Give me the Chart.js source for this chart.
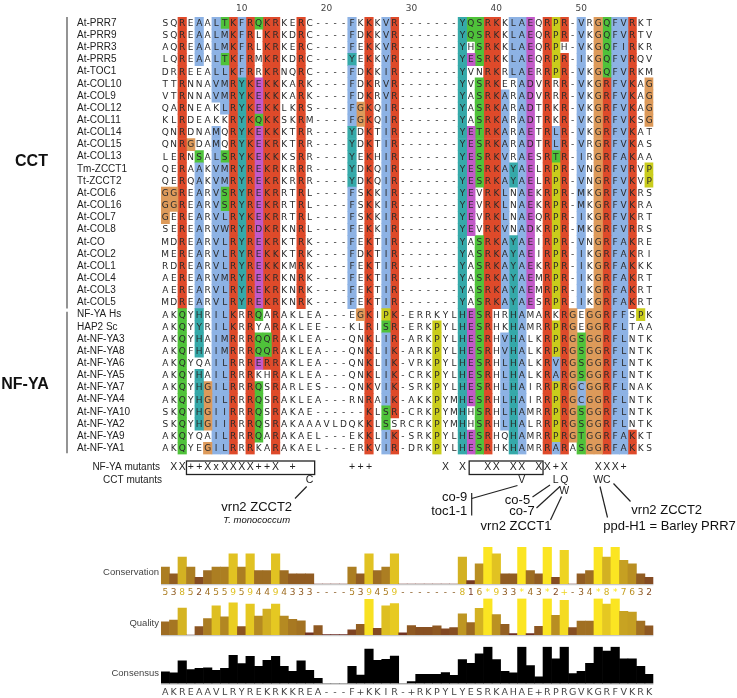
<!DOCTYPE html>
<html>
<head>
<meta charset="utf-8">
<script src="https://cdn.jsdelivr.net/npm/chart.js@4.4.1/dist/chart.umd.min.js"></script>
<style>
  html, body { margin: 0; padding: 0; background: #fff; }
  #wrap { position: relative; width: 737px; height: 698px; overflow: hidden; }
  canvas { position: absolute; left: 0; }
</style>
</head>
<body>
<div id="wrap">
  <canvas id="aln" width="737" height="540" style="top:0px"></canvas>
  <canvas id="cons" width="737" height="58" style="top:540px"></canvas>
  <canvas id="qual" width="737" height="42" style="top:598px"></canvas>
  <canvas id="ident" width="737" height="58" style="top:640px"></canvas>
</div>
<script>
/* ---- Datos ---- */
const names = [
  'At-PRR7', 'At-PRR9', 'At-PRR3', 'At-PRR5', 'At-TOC1', 'At-COL10', 'At-COL9', 'At-COL12',
  'At-COL11', 'At-COL14', 'At-COL15', 'At-COL13', 'Tm-ZCCT1', 'Tt-ZCCT2', 'At-COL6', 'At-COL16',
  'At-COL7', 'At-COL8', 'At-CO', 'At-COL2', 'At-COL1', 'At-COL4', 'At-COL3', 'At-COL5',
  'NF-YA Hs', 'HAP2 Sc', 'At-NF-YA3', 'At-NF-YA8', 'At-NF-YA6', 'At-NF-YA5', 'At-NF-YA7',
  'At-NF-YA4', 'At-NF-YA10', 'At-NF-YA2', 'At-NF-YA9', 'At-NF-YA1'
];

const seqs = [
  'SQREAALTKFRQKRKERC----FKKKVR-------YQSRKKLAEQRPR-VRGQFVRKT',
  'SQREAALMKFRLKRKDRC----FDKKVR-------YQSRKKLAEQRPR-VKGQFVRTV',
  'AQREAALMKFRLKRKERC----FEKKVR-------YHSRKKLAEQRPH-VKGQFIRKR',
  'LQREAALTKFRMKRKDRC----YEKKVR-------YESRKKLAEQRPR-IKGQFVRQV',
  'DRREEALLKFRRKRNQRC----FDKKIR-------YVNRKRLAERRPR-VKGQFVRKM',
  'TTRNNAVMRYKEKKKARK----FDKRVR-------YVSRKERADVRRR-VKGRFVKAG',
  'VTRNNAVMRYKEKKKARK----FDKRVR-------YASRKARADVRRR-VKGRFVKAG',
  'QARNEAKLRYKEKKLKRS----FGKQIR-------YASRKARADTRKR-VKGRFVKAG',
  'KLRDEAKKRYKQKKSKRM----FGKQIR-------YASRKARADTRKR-VKGRFVKSG',
  'QNRDNAMQRYKEKKKTRR----YDKTIR-------YETRKARAETRLR-VKGRFVKAT',
  'QNRGDAMQRYKEKRKTRR----YDKTIR-------YESRKARADTRLR-VRGRFVKAS',
  'LERNSALSRYKEKKKSRR----YEKHIR-------YESRKVRAESRTR-IRGRFAKAA',
  'QERAAKVMRYREKRKRRR----YDKQIR-------YESRKAYAELRPR-VNGRFVRVP',
  'QERQAKVMRYREKRKRRR----YDKQIR-------YESRKAYAELRPR-VNGRFVKVP',
  'GGREARVSRYREKRRTRL----FSKKIR-------YEVRKLNAEKRPR-MKGRFVKRS',
  'GGREARVSRYREKRRTRL----FSKKIR-------YEVRKLNAEKRPR-MKGRFVKRA',
  'GEREARVLRYKEKRRTRL----FSKKIR-------YEVRKLNAEQRPR-IKGRFVKRT',
  'SEREARVWRYRDKRKNRL----FEKKIR-------YEVRKVNADKRPR-MKGRFVRRS',
  'MDREARVLRYREKRKTRK----FEKTIR-------YASRKAYAEIRPR-VNGRFAKRE',
  'MEREARVLRYREKKKTRK----FDKTIR-------YASRKAYAEIRPR-IKGRFAKRI',
  'RDREARVLRYREKKKMRK----FEKTIR-------YASRKAYAEKRPR-IKGRFAKKK',
  'AEREARVMRYREKRKNRK----FEKTIR-------YASRKAYAEMRPR-IKGRFAKRT',
  'AEREARVLRYREKRKNRK----FEKTIR-------YASRKAYAEMRPR-IKGRFAKRT',
  'MDREARVLRYREKRKNRK----FEKTIR-------YASRKAYAESRPR-IKGRFAKRT',
  'AKQYHRILKRRQARAKLEA---EGKIPK-ERRKYLHESRHRHAMARKRGEGGRFFSPK',
  'AKQYYRILKRRYARAKLEE---KLRISR-ERKPYLHESRHKHAMRRPRGEGGRFLTAA',
  'AKQYHAIMRRRQQRAKLEA---QNKLIR-ARKPYLHESRHVHALKRPRGSGGRFLNTK',
  'AKQFHAIMRRRQQRAKLEA---QNKLIK-ARKPYLHESRHVHALKRPRGSGGRFLNTK',
  'AKQYQAILRRRERRAKLEA---QNKLIK-VRKPYLHESRHLHALKRVRGSGGRFLNTK',
  'AKQYHAILRRRKHRAKLEA---QNKLIK-CRKPYLHESRHLHALKRARGSGGRFLNTK',
  'AKQYHGILRRRQSRARLES---QNKVIK-SRKPYLHESRHLHAIRRPRGCGGRFLNAK',
  'AKQYHGILRRRQSRAKLEA---RNRAIK-AKKPYMHESRHLHAIRRPRGCGGRFLNTK',
  'SKQYHGIIRRRQSRAKAE------KLSR-CRKPYMHHSRHLHAMRRPRGSGGRFLNTK',
  'SKQYHGIIRRRQSRAKAAAVLDQKKLSSRCRKPYMHHSRHLHALRRPRGSGGRFLNTK',
  'AKQYQAILRRRQARAKAEL---EKKLIK-SRKPYLHESRHQHAMRRPRGTGGRFAKKT',
  'AKQYEGILRRRKARAKAEL---ERKVIR-DRKPYLHESRHKHAMRRARASGGRFAKKS'
];

const rulerTicks = [10, 20, 30, 40, 50];
const conservation = '538524559594494333----539459-------816*933*43*2+-34*8*7632';
const quality = [36, 41, 74, 0, 23, 45, 80, 50, 88, 23, 85, 52, 71, 85, 52, 43, 39, 6, 26, 1,
                 1, 1, 14, 29, 98, 18, 80, 86, 6, 26, 21, 21, 25, 17, 20, 58, 34, 73, 100, 56,
                 29, 4, 100, 4, 24, 100, 54, 95, 20, 38, 38, 100, 85, 100, 65, 63, 38, 25];
const consensusPct = [32, 29, 62, 38, 41, 43, 36, 41, 77, 54, 74, 47, 63, 74, 47, 33, 62, 36, 14, 0,
                      0, 0, 47, 23, 94, 63, 66, 75, 0, 5, 25, 25, 25, 30, 22, 65, 55, 81, 100, 65,
                      33, 29, 100, 49, 18, 100, 67, 100, 27, 33, 55, 100, 88, 100, 67, 67, 47, 25];
const consensusSeq = 'AKREAAVLRYREKRKKREA---F+KKIR-+RKPYLYESRKAHAE+RPRGVKGRFVKRK';

const nfyaMutants = [[2,'X'],[3,'X'],[4,'+'],[5,'+'],[6,'X'],[7,'x'],[8,'X'],[9,'X'],[10,'X'],[11,'X'],
  [12,'+'],[13,'+'],[14,'X'],[16,'+'],[23,'+'],[24,'+'],[25,'+'],[34,'X'],[36,'X'],[39,'X'],[40,'X'],
  [42,'X'],[43,'X'],[45,'X'],[46,'X'],[47,'+'],[48,'X'],[52,'X'],[53,'X'],[54,'X'],[55,'+']];
const cctMutants = [[18,'C'],[43,'V'],[47,'L'],[48,'Q'],[52,'W'],[53,'C']];
const cctMutantsLow = [[48,'W']];
const mutantBoxes = [[3.5, 18.6], [36.8, 45.5]];

/* ---- Geometria comun ---- */
const NCOL = seqs[0].length;
const cols = Array.from({ length: NCOL }, (_, i) => i + 1);
const AREA_L = 161, AREA_R = 653.4;
const SANS = '"Liberation Sans", Arial, sans-serif';

/* ---- Colores Clustal X ---- */
const CLX = {
  blue: '#8db2e4', red: '#de4a2a', green: '#4fc23a', magenta: '#c25ac8',
  pink: '#e48a84', orange: '#dd9a5a', yellow: '#c9cc1c', cyan: '#35a9a9'
};
const HYDRO = 'WLVIMAFCYHP';
function colFlags(ci) {
  const n = seqs.length, cnt = {};
  seqs.forEach(s => { cnt[s[ci]] = (cnt[s[ci]] || 0) + 1; });
  const pc = g => [...g].reduce((a, c) => a + (cnt[c] || 0), 0) / n * 100;
  const f = new Set();
  if (pc(HYDRO) > 60) f.add('%');
  if (pc(HYDRO) > 80) f.add('#');
  if (pc('ED') > 50) f.add('-');
  if (pc('KR') > 60) f.add('+');
  if (pc('N') > 50) f.add('n');
  if (pc('QE') > 50) f.add('q');
  if (pc('P') > 50) f.add('p');
  if (pc('TS') > 50) f.add('t');
  for (const c of 'ACDEFGHIKLMNPQRSTVWY') if (pc(c) > 85) f.add(c);
  return f;
}
const rules = [
  ['G', 'orange', null], ['P', 'yellow', null],
  ['WLVIMF', 'blue', '%#ACFHILMVWYPp'],
  ['A', 'blue', '%#ACFHILMVWYPpTSG'],
  ['C', 'pink', 'C'], ['C', 'blue', '%#AFHILMVWYSPp'],
  ['KR', 'red', '+KRQ'],
  ['E', 'magenta', '-DEqQ'], ['D', 'magenta', '-DEnN'],
  ['N', 'green', 'nND'], ['Q', 'green', 'qQE+KR'], ['ST', 'green', '%#tST'],
  ['HY', 'cyan', '%#ACFHILMVWYPp']
];
function clustal(ch, flags) {
  for (const [res, col, cond] of rules) {
    if (!res.includes(ch)) continue;
    if (cond === null || [...cond].some(k => flags.has(k))) return CLX[col];
  }
  return null;
}
const flagsByCol = cols.map((c, i) => colFlags(i));
const grid = seqs.map(s => [...s].map((ch, i) => clustal(ch, flagsByCol[i])));

const cellSets = cols.map((c, i) => ({
  data: seqs.map((s, r) => grid[r][i] ? [c - 0.5, c + 0.5] : null),
  backgroundColor: seqs.map((s, r) => grid[r][i] || 'rgba(0,0,0,0)'),
  borderWidth: 0
}));

/* ---- Letras, regla, grupos y mutantes ---- */
function line(ctx, x0, y0, x1, y1) {
  ctx.beginPath(); ctx.moveTo(x0, y0); ctx.lineTo(x1, y1); ctx.stroke();
}
const alignPlugin = {
  id: 'alignText',
  afterDatasetsDraw(chart) {
    const { ctx, scales: { x, y } } = chart;
    ctx.save();
    ctx.fillStyle = '#2a2a2a';
    ctx.font = '9px "DejaVu Sans", sans-serif';
    ctx.textAlign = 'center';
    ctx.textBaseline = 'middle';
    seqs.forEach((s, r) => {
      const py = y.getPixelForValue(r) + 0.5;
      [...s].forEach((ch, i) => ctx.fillText(ch, x.getPixelForValue(i + 1), py));
    });
    ctx.restore();
  },
  afterDraw(chart) {
    const { ctx, scales: { x, y } } = chart;
    const cx = c => x.getPixelForValue(c);
    ctx.save();
    ctx.textAlign = 'center';
    ctx.textBaseline = 'middle';

    // regla superior
    ctx.fillStyle = '#444';
    ctx.font = '9px "DejaVu Sans", sans-serif';
    rulerTicks.forEach(t => ctx.fillText(String(t), cx(t), 9));

    // barras de grupo
    ctx.strokeStyle = '#666';
    ctx.lineWidth = 1.4;
    line(ctx, 67, y.getPixelForValue(0) - 6, 67, y.getPixelForValue(23) + 6);
    line(ctx, 67, y.getPixelForValue(24) - 3, 67, y.getPixelForValue(35) + 5);
    ctx.fillStyle = '#111';
    ctx.font = 'bold 16px ' + SANS;
    ctx.fillText('CCT', 31.5, 162);
    ctx.fillText('NF-YA', 25, 385);

    // filas de mutantes
    ctx.fillStyle = '#222';
    ctx.font = '10px ' + SANS;
    ctx.textAlign = 'right';
    ctx.fillText('NF-YA mutants', 160, 467.5);
    ctx.fillText('CCT mutants', 162, 480.5);
    ctx.textAlign = 'center';
    ctx.font = '10.5px ' + SANS;
    nfyaMutants.forEach(([c, s]) => ctx.fillText(s, cx(c), 467.5));
    cctMutants.forEach(([c, s]) => ctx.fillText(s, cx(c), 480.5));
    cctMutantsLow.forEach(([c, s]) => ctx.fillText(s, cx(c), 491.5));
    ctx.strokeStyle = '#222';
    ctx.lineWidth = 1.3;
    mutantBoxes.forEach(([a, b]) => ctx.strokeRect(cx(a), 461, cx(b) - cx(a), 13.5));

    // lineas guia
    ctx.lineWidth = 1.2;
    line(ctx, 306.7, 486.5, 295, 498.5);
    line(ctx, 471.7, 493, 471.7, 515.5);
    line(ctx, 471.7, 498.5, 517.5, 485.5);
    line(ctx, 532.5, 497, 550, 485);
    line(ctx, 536.5, 508, 560, 486.5);
    line(ctx, 561.5, 496.5, 550.5, 520);
    line(ctx, 613.5, 483.5, 630.5, 501.5);
    line(ctx, 600, 486.5, 607.5, 517.5);

    // etiquetas de mutantes
    ctx.fillStyle = '#111';
    ctx.font = '13px ' + SANS;
    ctx.fillText('vrn2 ZCCT2', 256.7, 507.5);
    ctx.font = 'italic 9.5px ' + SANS;
    ctx.fillText('T. monococcum', 256.7, 520.7);
    ctx.font = '13px ' + SANS;
    ctx.textAlign = 'right';
    ctx.fillText('co-9', 467.3, 497);
    ctx.fillText('toc1-1', 467.3, 511.7);
    ctx.textAlign = 'center';
    ctx.fillText('co-5', 517.5, 500);
    ctx.fillText('co-7', 522, 511.7);
    ctx.fillText('vrn2 ZCCT1', 516, 526.7);
    ctx.fillText('vrn2 ZCCT2', 666.7, 510.5);
    ctx.fillText('ppd-H1 = Barley PRR7', 669.5, 526.7);
    ctx.restore();
  }
};

new Chart(document.getElementById('aln'), {
  type: 'bar',
  data: { labels: names, datasets: cellSets },
  options: {
    indexAxis: 'y',
    responsive: false,
    animation: false,
    events: [],
    layout: { padding: { left: 77, right: 737 - AREA_R, top: 17, bottom: 540 - (17 + 36 * 12.15) } },
    datasets: { bar: { grouped: false, barPercentage: 1, categoryPercentage: 1 } },
    plugins: { legend: { display: false }, tooltip: { enabled: false } },
    scales: {
      x: { type: 'linear', min: 0.5, max: NCOL + 0.5, display: false },
      y: {
        type: 'category',
        grid: { display: false },
        border: { display: false },
        ticks: { crossAlign: 'far', padding: 0, autoSkip: false, color: '#222', font: { family: SANS, size: 10 } },
        afterFit: s => { s.width = AREA_L - 77; }
      }
    }
  },
  plugins: [alignPlugin]
});

/* ---- Histogramas ---- */
function jvColour(v) {
  const r = 255 * (0.3 + 0.7 * v), g = 255 * 0.9 * v, b = 0;
  const m = 0.18;
  return `rgb(${Math.round(r * (1 - m) + 235 * m)},${Math.round(g * (1 - m) + 225 * m)},${Math.round(b * (1 - m) + 190 * m)})`;
}
const consValue = ch => ch === '*' ? 11 : ch === '+' ? 10 : ch === '-' ? 0 : Number(ch);
const consValues = [...conservation].map(consValue);

function histChart(id, values, max, padTop, padBottom, colours, extra) {
  return new Chart(document.getElementById(id), {
    type: 'bar',
    data: {
      labels: cols,
      datasets: [{ data: values, backgroundColor: colours, borderWidth: 0, barPercentage: 1, categoryPercentage: 1 }]
    },
    options: {
      responsive: false,
      animation: false,
      events: [],
      layout: { padding: { left: AREA_L, right: 737 - AREA_R, top: padTop, bottom: padBottom } },
      plugins: { legend: { display: false }, tooltip: { enabled: false } },
      scales: { x: { display: false }, y: { display: false, min: 0, max: max } }
    },
    plugins: [extra]
  });
}

function baseline(chart) {
  const { ctx, chartArea: a } = chart;
  ctx.save();
  ctx.strokeStyle = '#c9c9c9';
  ctx.lineWidth = 1.2;
  line(ctx, a.left, a.bottom + 0.6, a.right, a.bottom + 0.6);
  ctx.restore();
}
function rowLabel(chart, text, yy) {
  const { ctx } = chart;
  ctx.save();
  ctx.fillStyle = '#444';
  ctx.font = '9.5px ' + SANS;
  ctx.textAlign = 'right';
  ctx.textBaseline = 'middle';
  ctx.fillText(text, 159, yy);
  ctx.restore();
}

// Conservacion: barras + numeros
histChart('cons', consValues, 11, 7, 14, consValues.map(v => jvColour(v / 11)), {
  id: 'consText',
  beforeDatasetsDraw: baseline,
  afterDraw(chart) {
    const { ctx, scales: { x } } = chart;
    rowLabel(chart, 'Conservation', 32);
    ctx.save();
    ctx.font = '9px "DejaVu Sans", sans-serif';
    ctx.textAlign = 'center';
    ctx.textBaseline = 'middle';
    [...conservation].forEach((ch, i) => {
      ctx.fillStyle = ch === '-' ? '#8a5a22' : jvColour(consValue(ch) / 11);
      ctx.fillText(ch, x.getPixelForValue(i), 53);
    });
    ctx.restore();
  }
});

// Calidad
histChart('qual', quality, 100, 0.5, 5, quality.map(v => jvColour(v / 100)), {
  id: 'qualText',
  beforeDatasetsDraw: baseline,
  afterDraw(chart) { rowLabel(chart, 'Quality', 25); }
});

// Consenso: barras + letras
histChart('ident', consensusPct, 100, 6.8, 14.5, '#000', {
  id: 'identText',
  beforeDatasetsDraw: baseline,
  afterDraw(chart) {
    const { ctx, scales: { x } } = chart;
    rowLabel(chart, 'Consensus', 33);
    ctx.save();
    ctx.fillStyle = '#444';
    ctx.font = '9.5px "DejaVu Sans", sans-serif';
    ctx.textAlign = 'center';
    ctx.textBaseline = 'middle';
    [...consensusSeq].forEach((ch, i) => ctx.fillText(ch, x.getPixelForValue(i), 53));
    ctx.restore();
  }
});
</script>
</body>
</html>
